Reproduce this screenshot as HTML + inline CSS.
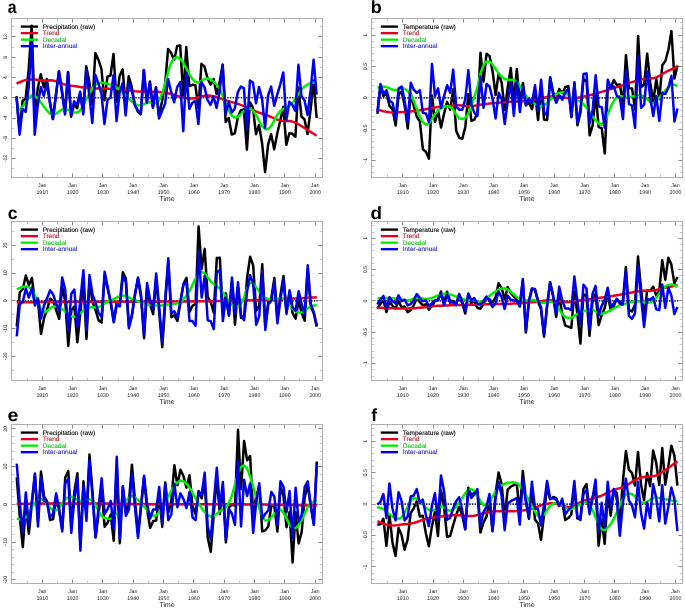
<!DOCTYPE html>
<html><head><meta charset="utf-8"><title>Time scales decomposition</title>
<style>
html,body{margin:0;padding:0;background:#fff;}
svg{display:block;font-family:"Liberation Sans",Arial,sans-serif;text-rendering:geometricPrecision;}
.fr{fill:none;stroke:#b0b0b4;stroke-width:1}
.tk{stroke:#8c8c90;stroke-width:1;fill:none}
.tm{stroke:#c4c4cc;stroke-width:1;fill:none}
.ln{fill:none;stroke-width:2.5;stroke-linejoin:round;stroke-linecap:butt}
.tl{font-size:5.3px;fill:#1a1a1a}
.lg{font-size:6.5px;stroke-width:0.12px}
.pl{font-size:17.5px;font-weight:bold;fill:#000}
</style></head><body>
<svg width="685" height="608" viewBox="0 0 685 608">
<rect width="685" height="608" fill="#fff"/>
<g id="panel-a">
<path class="tk" d="M42.5 18.5v4.1M42.5 177.5v-4.1M72.5 18.5v4.1M72.5 177.5v-4.1M102.5 18.5v4.1M102.5 177.5v-4.1M133.5 18.5v4.1M133.5 177.5v-4.1M163.5 18.5v4.1M163.5 177.5v-4.1M193.5 18.5v4.1M193.5 177.5v-4.1M224.5 18.5v4.1M224.5 177.5v-4.1M254.5 18.5v4.1M254.5 177.5v-4.1M284.5 18.5v4.1M284.5 177.5v-4.1M315.5 18.5v4.1M315.5 177.5v-4.1M11.5 158.5h4.1M322.5 158.5h-4.1M11.5 138.5h4.1M322.5 138.5h-4.1M11.5 118.5h4.1M322.5 118.5h-4.1M11.5 97.5h4.1M322.5 97.5h-4.1M11.5 77.5h4.1M322.5 77.5h-4.1M11.5 57.5h4.1M322.5 57.5h-4.1M11.5 36.5h4.1M322.5 36.5h-4.1"/>
<path class="tm" d="M27.5 18.5v2.8M27.5 177.5v-2.8M57.5 18.5v2.8M57.5 177.5v-2.8M87.5 18.5v2.8M87.5 177.5v-2.8M118.5 18.5v2.8M118.5 177.5v-2.8M148.5 18.5v2.8M148.5 177.5v-2.8M178.5 18.5v2.8M178.5 177.5v-2.8M209.5 18.5v2.8M209.5 177.5v-2.8M239.5 18.5v2.8M239.5 177.5v-2.8M269.5 18.5v2.8M269.5 177.5v-2.8M299.5 18.5v2.8M299.5 177.5v-2.8M11.5 168.5h2.8M322.5 168.5h-2.8M11.5 148.5h2.8M322.5 148.5h-2.8M11.5 128.5h2.8M322.5 128.5h-2.8M11.5 107.5h2.8M322.5 107.5h-2.8M11.5 87.5h2.8M322.5 87.5h-2.8M11.5 67.5h2.8M322.5 67.5h-2.8M11.5 47.5h2.8M322.5 47.5h-2.8M11.5 26.5h2.8M322.5 26.5h-2.8"/>
<g clip-path="none"><polyline class="ln" stroke="#000" points="16.54,96.23 19.57,130.86 22.6,100.88 25.63,98.83 28.66,69.56 31.69,25.83 34.72,114.56 37.75,88.28 40.78,74.27 43.82,87.22 46.85,78.93 49.88,101.26 52.91,119.02 55.94,94.76 58.97,71.41 62,90.75 65.03,112.44 68.06,72.04 71.1,116.63 74.13,104.43 77.16,108.28 80.19,93.53 83.22,112.17 86.25,66.35 89.28,81.6 92.31,104.57 95.34,52.99 98.38,59.72 101.41,68.95 104.44,100.28 107.47,76.62 110.5,75.5 113.53,54.03 116.56,101.95 119.59,75.97 122.62,69.3 125.66,105.13 128.69,76.36 131.72,86.9 134.75,104.33 137.78,111.51 140.81,114.31 143.84,70.24 146.87,101.8 149.9,81.47 152.94,107.05 155.97,87.16 159,115.72 162.03,101.47 165.06,84.58 168.09,48.98 171.12,53.06 174.15,59.89 177.18,46.09 180.22,45.58 183.25,96.03 186.28,47.1 189.31,86.12 192.34,84.83 195.37,85.23 198.4,108.33 201.43,63.86 204.46,66.35 207.5,78.29 210.53,84.54 213.56,79.1 216.59,94.03 219.62,82.4 222.65,64.4 225.68,122.06 228.71,117.97 231.74,134.49 234.78,133.42 237.81,117.49 240.84,110.19 243.87,109.59 246.9,149.7 249.93,102.18 252.96,107.78 255.99,134.22 259.02,124.95 262.06,143.01 265.09,172.21 268.12,144.63 271.15,134.22 274.18,149.37 277.21,133.81 280.24,120.73 283.27,106.73 286.3,144.85 289.34,133.23 292.37,133.79 295.4,136.85 298.43,87.59 301.46,116.49 304.49,119.41 307.52,133.99 310.55,110.15 313.58,80.62 316.62,118.01"/>
<path d="M16.54 97.75H317.42" stroke="#333" stroke-width="1.7" stroke-dasharray="1.6 1.1" fill="none"/>
<polyline class="ln" stroke="#e8001c" points="16.54,83.57 19.57,82.24 22.6,81.04 25.63,80.09 28.66,79.52 31.69,79.4 34.72,79.61 37.75,79.98 40.78,80.35 43.82,80.53 46.85,80.45 49.88,80.34 52.91,80.53 55.94,81.25 58.97,82.34 62,83.54 65.03,84.58 68.06,85.28 71.1,85.74 74.13,86.1 77.16,86.5 80.19,86.95 83.22,87.39 86.25,87.79 89.28,88.13 92.31,88.36 95.34,88.51 98.38,88.59 101.41,88.62 104.44,88.63 107.47,88.64 110.5,88.67 113.53,88.74 116.56,88.89 119.59,89.14 122.62,89.5 125.66,89.94 128.69,90.39 131.72,90.82 134.75,91.17 137.78,91.39 140.81,91.52 143.84,91.57 146.87,91.59 149.9,91.6 152.94,91.64 155.97,91.73 159,91.92 162.03,92.22 165.06,92.69 168.09,93.32 171.12,94.09 174.15,94.95 177.18,95.85 180.22,96.74 183.25,97.56 186.28,98.21 189.31,98.56 192.34,98.51 195.37,97.99 198.4,97.19 201.43,96.35 204.46,95.72 207.5,95.5 210.53,95.69 213.56,96.23 216.59,97.07 219.62,98.11 222.65,99.21 225.68,100.28 228.71,101.22 231.74,102.08 234.78,102.92 237.81,103.81 240.84,104.84 243.87,106.04 246.9,107.38 249.93,108.77 252.96,110.14 255.99,111.43 259.02,112.57 262.06,113.64 265.09,114.68 268.12,115.77 271.15,117 274.18,118.36 277.21,119.63 280.24,120.54 283.27,120.91 286.3,120.97 289.34,121.07 292.37,121.56 295.4,122.67 298.43,124.26 301.46,126.11 304.49,128.02 307.52,129.94 310.55,131.87 313.58,133.8 316.62,135.74"/>
<polyline class="ln" stroke="#00ee00" points="16.54,110.92 19.57,109.4 22.6,106.44 25.63,102.31 28.66,97.92 31.69,95.22 34.72,95.72 37.75,98.45 40.78,102.31 43.82,106.46 46.85,110.41 49.88,113.61 52.91,114.97 55.94,113.79 58.97,111.43 62,109.52 65.03,108.89 68.06,109.84 71.1,111.43 74.13,112.54 77.16,112.44 80.19,110.41 83.22,105.81 86.25,99.78 89.28,93.76 92.31,88.63 95.34,85.02 98.38,83.06 101.41,82.63 104.44,83.06 107.47,83.71 110.5,84.58 113.53,85.83 116.56,87.51 119.59,89.65 122.62,92.24 125.66,95.22 128.69,98.41 131.72,101.43 134.75,103.83 137.78,105.21 140.81,105.35 143.84,104.28 146.87,102.9 149.9,102.31 152.94,103.04 155.97,103.31 159,100.79 162.03,93.82 165.06,83.57 168.09,72.15 171.12,62.8 174.15,58.13 177.18,57.23 180.22,58.75 183.25,62.79 186.28,68.37 189.31,74.16 192.34,79.01 195.37,81.95 198.4,82.56 201.43,80.96 204.46,79.01 207.5,78.51 210.53,79.52 213.56,81.63 216.59,84.58 219.62,88.63 222.65,95.35 225.68,103.32 228.71,110.45 231.74,115.48 234.78,117.61 237.81,117 240.84,114.24 243.87,110.92 246.9,108.67 249.93,108.39 252.96,110.59 255.99,114.97 259.02,120.76 262.06,126.11 265.09,129.15 268.12,129.14 271.15,126.11 274.18,120.66 277.21,114.97 280.24,111.1 283.27,108.89 286.3,107.53 289.34,105.85 292.37,102.89 295.4,98.76 298.43,93.99 301.46,89.65 304.49,86.61 307.52,84.58 310.55,83.12 313.58,82.56 316.62,83.06"/>
<polyline class="ln" stroke="#0000f0" points="16.54,97.24 19.57,134.72 22.6,108.89 25.63,111.93 28.66,87.62 31.69,42.03 34.72,134.72 37.75,105.35 40.78,87.11 43.82,95.72 46.85,83.57 49.88,102.81 52.91,119.02 55.94,95.22 58.97,70.91 62,93.19 65.03,114.46 68.06,72.42 71.1,114.97 74.13,101.3 77.16,104.84 80.19,91.67 83.22,114.46 86.25,69.89 89.28,95.22 92.31,123.08 95.34,74.96 98.38,83.57 101.41,93.19 104.44,124.09 107.47,99.78 110.5,97.75 113.53,74.96 116.56,121.05 119.59,92.69 122.62,83.06 125.66,115.48 128.69,83.06 131.72,90.15 134.75,104.84 137.78,110.41 140.81,112.94 143.84,69.89 146.87,102.81 149.9,83.06 152.94,107.88 155.97,87.62 159,118.52 162.03,110.92 165.06,103.83 168.09,79.01 171.12,91.67 174.15,102.31 177.18,87.11 180.22,82.05 183.25,131.18 186.28,72.42 189.31,108.89 192.34,102.81 195.37,100.79 198.4,124.09 201.43,82.05 204.46,87.11 207.5,99.78 210.53,104.84 213.56,96.74 216.59,107.88 219.62,91.17 222.65,65.33 225.68,113.96 228.71,101.8 231.74,112.44 234.78,108.39 237.81,92.18 240.84,86.61 243.87,88.13 246.9,129.15 249.93,80.53 252.96,82.56 255.99,103.32 259.02,87.11 262.06,98.76 265.09,127.63 268.12,95.22 271.15,86.61 274.18,105.85 277.21,94.71 280.24,84.58 283.27,72.42 286.3,120.54 289.34,101.8 292.37,104.84 295.4,110.92 298.43,64.83 301.46,96.23 304.49,100.28 307.52,114.97 310.55,90.66 313.58,59.76 316.62,94.71"/>
</g>
<rect class="fr" x="11.5" y="18.5" width="311" height="159"/>
<path d="M20.8 26.6H38" stroke="#000" stroke-width="2.35" fill="none"/><text class="lg" x="42.7" y="28.85" fill="#000" stroke="#000">Precipitation (raw)</text>
<path d="M20.8 33.13H38" stroke="#e8001c" stroke-width="2.35" fill="none"/><text class="lg" x="42.7" y="35.38" fill="#b8202c" stroke="#b8202c">Trend</text>
<path d="M20.8 39.66H38" stroke="#00ee00" stroke-width="2.35" fill="none"/><text class="lg" x="42.7" y="41.91" fill="#22c022" stroke="#22c022">Decadal</text>
<path d="M20.8 46.19H38" stroke="#0000f0" stroke-width="2.35" fill="none"/><text class="lg" x="42.7" y="48.44" fill="#2828c8" stroke="#2828c8">Inter-annual</text>
<text class="tl" text-anchor="middle" x="42.3" y="186.8">Jan</text><text class="tl" text-anchor="middle" x="42.3" y="194.1">1910</text>
<text class="tl" text-anchor="middle" x="72.61" y="186.8">Jan</text><text class="tl" text-anchor="middle" x="72.61" y="194.1">1920</text>
<text class="tl" text-anchor="middle" x="102.92" y="186.8">Jan</text><text class="tl" text-anchor="middle" x="102.92" y="194.1">1930</text>
<text class="tl" text-anchor="middle" x="133.23" y="186.8">Jan</text><text class="tl" text-anchor="middle" x="133.23" y="194.1">1940</text>
<text class="tl" text-anchor="middle" x="163.54" y="186.8">Jan</text><text class="tl" text-anchor="middle" x="163.54" y="194.1">1950</text>
<text class="tl" text-anchor="middle" x="193.86" y="186.8">Jan</text><text class="tl" text-anchor="middle" x="193.86" y="194.1">1960</text>
<text class="tl" text-anchor="middle" x="224.17" y="186.8">Jan</text><text class="tl" text-anchor="middle" x="224.17" y="194.1">1970</text>
<text class="tl" text-anchor="middle" x="254.48" y="186.8">Jan</text><text class="tl" text-anchor="middle" x="254.48" y="194.1">1980</text>
<text class="tl" text-anchor="middle" x="284.79" y="186.8">Jan</text><text class="tl" text-anchor="middle" x="284.79" y="194.1">1990</text>
<text class="tl" text-anchor="middle" x="315.1" y="186.8">Jan</text><text class="tl" text-anchor="middle" x="315.1" y="194.1">2000</text>
<text text-anchor="middle" x="167" y="200.5" font-size="6.8px" fill="#111">Time</text>
<text class="tl" text-anchor="middle" transform="translate(6.5 158.53) rotate(-90)">-12</text>
<text class="tl" text-anchor="middle" transform="translate(6.5 138.27) rotate(-90)">-8</text>
<text class="tl" text-anchor="middle" transform="translate(6.5 118.01) rotate(-90)">-4</text>
<text class="tl" text-anchor="middle" transform="translate(6.5 97.75) rotate(-90)">0</text>
<text class="tl" text-anchor="middle" transform="translate(6.5 77.49) rotate(-90)">4</text>
<text class="tl" text-anchor="middle" transform="translate(6.5 57.23) rotate(-90)">8</text>
<text class="tl" text-anchor="middle" transform="translate(6.5 36.97) rotate(-90)">12</text>
<text class="pl" transform="translate(7.8 12.7) scale(0.9 1)">a</text>
</g>
<g id="panel-b">
<path class="tk" d="M402.5 18.5v4.1M402.5 177.5v-4.1M433.5 18.5v4.1M433.5 177.5v-4.1M463.5 18.5v4.1M463.5 177.5v-4.1M493.5 18.5v4.1M493.5 177.5v-4.1M523.5 18.5v4.1M523.5 177.5v-4.1M554.5 18.5v4.1M554.5 177.5v-4.1M584.5 18.5v4.1M584.5 177.5v-4.1M614.5 18.5v4.1M614.5 177.5v-4.1M645.5 18.5v4.1M645.5 177.5v-4.1M675.5 18.5v4.1M675.5 177.5v-4.1M371.5 160.5h4.1M682.5 160.5h-4.1M371.5 129.5h4.1M682.5 129.5h-4.1M371.5 97.5h4.1M682.5 97.5h-4.1M371.5 66.5h4.1M682.5 66.5h-4.1M371.5 35.5h4.1M682.5 35.5h-4.1"/>
<path class="tm" d="M387.5 18.5v2.8M387.5 177.5v-2.8M417.5 18.5v2.8M417.5 177.5v-2.8M448.5 18.5v2.8M448.5 177.5v-2.8M478.5 18.5v2.8M478.5 177.5v-2.8M508.5 18.5v2.8M508.5 177.5v-2.8M539.5 18.5v2.8M539.5 177.5v-2.8M569.5 18.5v2.8M569.5 177.5v-2.8M599.5 18.5v2.8M599.5 177.5v-2.8M630.5 18.5v2.8M630.5 177.5v-2.8M660.5 18.5v2.8M660.5 177.5v-2.8M371.5 172.5h2.8M682.5 172.5h-2.8M371.5 166.5h2.8M682.5 166.5h-2.8M371.5 154.5h2.8M682.5 154.5h-2.8M371.5 147.5h2.8M682.5 147.5h-2.8M371.5 141.5h2.8M682.5 141.5h-2.8M371.5 135.5h2.8M682.5 135.5h-2.8M371.5 122.5h2.8M682.5 122.5h-2.8M371.5 116.5h2.8M682.5 116.5h-2.8M371.5 110.5h2.8M682.5 110.5h-2.8M371.5 104.5h2.8M682.5 104.5h-2.8M371.5 91.5h2.8M682.5 91.5h-2.8M371.5 85.5h2.8M682.5 85.5h-2.8M371.5 79.5h2.8M682.5 79.5h-2.8M371.5 72.5h2.8M682.5 72.5h-2.8M371.5 60.5h2.8M682.5 60.5h-2.8M371.5 53.5h2.8M682.5 53.5h-2.8M371.5 47.5h2.8M682.5 47.5h-2.8M371.5 41.5h2.8M682.5 41.5h-2.8M371.5 28.5h2.8M682.5 28.5h-2.8M371.5 22.5h2.8M682.5 22.5h-2.8"/>
<g clip-path="none"><polyline class="ln" stroke="#000" points="377.42,113.83 380.45,85.77 383.48,96.15 386.51,93.61 389.54,105.94 392.58,109.38 395.61,125.58 398.64,94.53 401.67,91.46 404.7,106 407.73,128.55 410.76,93.47 413.79,106.1 416.82,116.74 419.86,121.59 422.89,149.25 425.92,151.77 428.95,158.67 431.98,95.5 435.01,121.9 438.04,110.56 441.07,127.44 444.1,113.56 447.14,101.86 450.17,109.89 453.2,89.32 456.23,130.84 459.26,137.86 462.29,138.78 465.32,127.14 468.35,94.36 471.38,120.81 474.42,119.53 477.45,112.74 480.48,52.73 483.51,81.71 486.54,53.71 489.57,55.93 492.6,71.44 495.63,95 498.66,73.44 501.7,82.91 504.73,109.84 507.76,87.13 510.79,68.06 513.82,101.84 516.85,68.99 519.88,103.7 522.91,83.03 525.94,105.46 528.98,102.47 532.01,109.25 535.04,93.4 538.07,120.09 541.1,88.72 544.13,119.7 547.16,119.91 550.19,77.92 553.22,92.52 556.26,97.71 559.29,89.04 562.32,93.26 565.35,87.03 568.38,86.15 571.41,117.21 574.44,84.18 577.47,125.33 580.5,112.2 583.54,79.09 586.57,81.52 589.6,135.25 592.63,125.74 595.66,93.74 598.69,127.17 601.72,128.16 604.75,153.51 607.78,88.16 610.82,87.89 613.85,80.01 616.88,85.09 619.91,84.57 622.94,104.73 625.97,55.29 629,88.31 632.03,88.41 635.06,109.43 638.1,36 641.13,87.14 644.16,84.53 647.19,53.67 650.22,82.65 653.25,101.61 656.28,79.06 659.31,99.08 662.34,65.23 665.38,61.01 668.41,49.75 671.44,31.13 674.47,78.55 677.5,65.56"/>
<path d="M377.42 97.8H678.3" stroke="#333" stroke-width="1.7" stroke-dasharray="1.6 1.1" fill="none"/>
<polyline class="ln" stroke="#e8001c" points="377.42,109.69 380.45,110.47 383.48,111.18 386.51,111.78 389.54,112.2 392.58,112.41 395.61,112.43 398.64,112.32 401.67,112.12 404.7,111.88 407.73,111.65 410.76,111.39 413.79,111.1 416.82,110.75 419.86,110.32 422.89,109.79 425.92,109.2 428.95,108.59 431.98,108.01 435.01,107.5 438.04,107.1 441.07,106.78 444.1,106.51 447.14,106.24 450.17,105.94 453.2,105.6 456.23,105.34 459.26,105.31 462.29,105.6 465.32,106 468.35,106.25 471.38,106.15 474.42,105.76 477.45,105.23 480.48,104.69 483.51,104.24 486.54,103.89 489.57,103.61 492.6,103.36 495.63,103.12 498.66,102.86 501.7,102.59 504.73,102.33 507.76,102.08 510.79,101.87 513.82,101.7 516.85,101.54 519.88,101.38 522.91,101.19 525.94,100.93 528.98,100.59 532.01,100.17 535.04,99.66 538.07,99.08 541.1,98.43 544.13,97.72 547.16,97.06 550.19,96.55 553.22,96.28 556.26,96.28 559.29,96.55 562.32,97.07 565.35,97.67 568.38,98.19 571.41,98.43 574.44,98.25 577.47,97.78 580.5,97.17 583.54,96.56 586.57,95.92 589.6,95.21 592.63,94.44 595.66,93.61 598.69,92.74 601.72,91.85 604.75,90.95 607.78,90.04 610.82,89.1 613.85,88.15 616.88,87.16 619.91,86.14 622.94,85.11 625.97,84.09 629,83.09 632.03,82.15 635.06,81.27 638.1,80.45 641.13,79.65 644.16,78.89 647.19,78.39 650.22,78.27 653.25,78.13 656.28,77.45 659.31,75.92 662.34,74.01 665.38,72.28 668.41,70.75 671.44,69.32 674.47,67.91 677.5,66.5"/>
<polyline class="ln" stroke="#00ee00" points="377.42,87.78 380.45,86.88 383.48,86.53 386.51,87.14 389.54,88.41 392.58,89.77 395.61,90.29 398.64,89.4 401.67,88.41 404.7,88.79 407.73,90.91 410.76,94.9 413.79,100.93 416.82,108.79 419.86,116.58 422.89,122.23 425.92,124.72 428.95,123.47 431.98,119.09 435.01,114.08 438.04,110.65 441.07,108.44 444.1,106.73 447.14,105.94 450.17,106.76 453.2,109.69 456.23,114.54 459.26,118.46 462.29,119.08 465.32,117.69 468.35,113.45 471.38,105.57 474.42,96.55 477.45,87.16 480.48,73.39 483.51,65.25 486.54,61.38 489.57,61.39 492.6,64.62 495.63,69.02 498.66,73.39 501.7,76.87 504.73,79.02 507.76,79.72 510.79,79.65 513.82,79.79 516.85,81.52 519.88,85.72 522.91,90.91 525.94,95.44 528.98,99.05 532.01,101.87 535.04,104.06 538.07,105.67 541.1,106.25 544.13,105.38 547.16,103.12 550.19,99.83 553.22,96.55 556.26,94.22 559.29,92.79 562.32,92.12 565.35,92.79 568.38,95.15 571.41,97.8 574.44,99.37 577.47,100.3 580.5,101.56 583.54,104.11 586.57,107.82 589.6,112.17 592.63,116.58 595.66,120.46 598.69,123.47 601.72,124.72 604.75,121.59 607.78,114.08 610.82,106.6 613.85,100.93 616.88,97.61 619.91,96.23 622.94,96.14 625.97,96.55 629,96.76 632.03,96.55 635.06,95.91 638.1,95.3 641.13,95.28 644.16,96.55 647.19,99.37 650.22,102.18 653.25,103.12 656.28,101.28 659.31,97.8 662.34,94.03 665.38,90.29 668.41,86.82 671.44,84.65 674.47,84.65 677.5,86.22"/>
<polyline class="ln" stroke="#0000f0" points="377.42,111.95 380.45,84.03 383.48,94.04 386.51,90.29 389.54,100.93 392.58,102.81 395.61,118.46 398.64,88.41 401.67,86.53 404.7,100.93 407.73,121.59 410.76,82.78 413.79,89.66 416.82,92.79 419.86,90.29 422.89,112.82 425.92,113.45 428.95,122.21 431.98,64 435.01,95.92 438.04,88.41 441.07,107.82 444.1,95.92 447.14,85.28 450.17,92.79 453.2,69.63 456.23,106.56 459.26,109.69 462.29,109.69 465.32,99.05 468.35,70.26 471.38,104.69 474.42,112.82 477.45,115.95 480.48,76.52 483.51,107.82 486.54,84.03 489.57,86.53 492.6,99.05 495.63,118.46 498.66,92.79 501.7,99.05 504.73,124.09 507.76,100.93 510.79,82.15 513.82,115.95 516.85,81.52 519.88,112.2 522.91,86.53 525.94,104.69 528.98,98.43 532.01,102.81 535.04,85.28 538.07,110.95 541.1,79.65 544.13,112.2 547.16,115.33 550.19,77.14 553.22,95.3 556.26,102.81 559.29,95.3 562.32,99.68 565.35,92.17 568.38,88.41 571.41,116.58 574.44,82.15 577.47,122.84 580.5,109.07 583.54,74.01 586.57,73.39 589.6,123.47 592.63,110.32 595.66,75.26 598.69,106.56 601.72,107.19 604.75,127.85 607.78,79.65 610.82,87.78 613.85,86.53 616.88,95.92 619.91,97.8 622.94,119.08 625.97,70.26 629,104.06 632.03,105.31 635.06,127.85 638.1,55.86 641.13,107.82 644.16,104.69 647.19,71.51 650.22,97.8 653.25,115.95 656.28,95.92 659.31,120.96 662.34,92.79 665.38,94.04 668.41,87.78 671.44,75.89 674.47,121.59 677.5,108.44"/>
</g>
<rect class="fr" x="371.5" y="18.5" width="311" height="159"/>
<path d="M380.8 26.6H398" stroke="#000" stroke-width="2.35" fill="none"/><text class="lg" x="402.7" y="28.85" fill="#000" stroke="#000">Temperature (raw)</text>
<path d="M380.8 33.13H398" stroke="#e8001c" stroke-width="2.35" fill="none"/><text class="lg" x="402.7" y="35.38" fill="#b8202c" stroke="#b8202c">Trend</text>
<path d="M380.8 39.66H398" stroke="#00ee00" stroke-width="2.35" fill="none"/><text class="lg" x="402.7" y="41.91" fill="#22c022" stroke="#22c022">Decadal</text>
<path d="M380.8 46.19H398" stroke="#0000f0" stroke-width="2.35" fill="none"/><text class="lg" x="402.7" y="48.44" fill="#2828c8" stroke="#2828c8">Inter-annual</text>
<text class="tl" text-anchor="middle" x="402.7" y="186.8">Jan</text><text class="tl" text-anchor="middle" x="402.7" y="194.1">1910</text>
<text class="tl" text-anchor="middle" x="433.01" y="186.8">Jan</text><text class="tl" text-anchor="middle" x="433.01" y="194.1">1920</text>
<text class="tl" text-anchor="middle" x="463.32" y="186.8">Jan</text><text class="tl" text-anchor="middle" x="463.32" y="194.1">1930</text>
<text class="tl" text-anchor="middle" x="493.63" y="186.8">Jan</text><text class="tl" text-anchor="middle" x="493.63" y="194.1">1940</text>
<text class="tl" text-anchor="middle" x="523.94" y="186.8">Jan</text><text class="tl" text-anchor="middle" x="523.94" y="194.1">1950</text>
<text class="tl" text-anchor="middle" x="554.26" y="186.8">Jan</text><text class="tl" text-anchor="middle" x="554.26" y="194.1">1960</text>
<text class="tl" text-anchor="middle" x="584.57" y="186.8">Jan</text><text class="tl" text-anchor="middle" x="584.57" y="194.1">1970</text>
<text class="tl" text-anchor="middle" x="614.88" y="186.8">Jan</text><text class="tl" text-anchor="middle" x="614.88" y="194.1">1980</text>
<text class="tl" text-anchor="middle" x="645.19" y="186.8">Jan</text><text class="tl" text-anchor="middle" x="645.19" y="194.1">1990</text>
<text class="tl" text-anchor="middle" x="675.5" y="186.8">Jan</text><text class="tl" text-anchor="middle" x="675.5" y="194.1">2000</text>
<text text-anchor="middle" x="527" y="200.5" font-size="6.8px" fill="#111">Time</text>
<text class="tl" text-anchor="middle" transform="translate(366.5 160.4) rotate(-90)">-1</text>
<text class="tl" text-anchor="middle" transform="translate(366.5 129.1) rotate(-90)">-0.5</text>
<text class="tl" text-anchor="middle" transform="translate(366.5 97.8) rotate(-90)">0</text>
<text class="tl" text-anchor="middle" transform="translate(366.5 66.5) rotate(-90)">0.5</text>
<text class="tl" text-anchor="middle" transform="translate(366.5 35.2) rotate(-90)">1</text>
<text class="pl" transform="translate(370.8 12.6) scale(1.03 1)">b</text>
</g>
<g id="panel-c">
<path class="tk" d="M42.5 221.5v4.1M42.5 380.5v-4.1M72.5 221.5v4.1M72.5 380.5v-4.1M102.5 221.5v4.1M102.5 380.5v-4.1M133.5 221.5v4.1M133.5 380.5v-4.1M163.5 221.5v4.1M163.5 380.5v-4.1M193.5 221.5v4.1M193.5 380.5v-4.1M224.5 221.5v4.1M224.5 380.5v-4.1M254.5 221.5v4.1M254.5 380.5v-4.1M284.5 221.5v4.1M284.5 380.5v-4.1M315.5 221.5v4.1M315.5 380.5v-4.1M11.5 356.5h4.1M322.5 356.5h-4.1M11.5 328.5h4.1M322.5 328.5h-4.1M11.5 300.5h4.1M322.5 300.5h-4.1M11.5 273.5h4.1M322.5 273.5h-4.1M11.5 245.5h4.1M322.5 245.5h-4.1"/>
<path class="tm" d="M27.5 221.5v2.8M27.5 380.5v-2.8M57.5 221.5v2.8M57.5 380.5v-2.8M87.5 221.5v2.8M87.5 380.5v-2.8M118.5 221.5v2.8M118.5 380.5v-2.8M148.5 221.5v2.8M148.5 380.5v-2.8M178.5 221.5v2.8M178.5 380.5v-2.8M209.5 221.5v2.8M209.5 380.5v-2.8M239.5 221.5v2.8M239.5 380.5v-2.8M269.5 221.5v2.8M269.5 380.5v-2.8M299.5 221.5v2.8M299.5 380.5v-2.8M11.5 370.5h2.8M322.5 370.5h-2.8M11.5 342.5h2.8M322.5 342.5h-2.8M11.5 314.5h2.8M322.5 314.5h-2.8M11.5 286.5h2.8M322.5 286.5h-2.8M11.5 259.5h2.8M322.5 259.5h-2.8M11.5 231.5h2.8M322.5 231.5h-2.8"/>
<g clip-path="none"><polyline class="ln" stroke="#000" points="16.75,326.36 19.78,292.54 22.81,288.89 25.84,275.56 28.87,285.07 31.9,278.01 34.93,301.21 37.97,300.98 41,334.12 44.03,318.13 47.06,309.71 50.09,298.68 53.12,301.26 56.15,310.01 59.18,318.8 62.21,286.68 65.25,301.27 68.28,345.97 71.31,310.3 74.34,306.51 77.37,342.28 80.4,312.36 83.43,280.72 86.46,338.95 89.49,282.31 92.53,301.77 95.56,310.14 98.59,320.32 101.62,322.49 104.65,275.11 107.68,288.65 110.71,302.53 113.74,321.13 116.77,302.24 119.81,302.56 122.84,272.29 125.87,278.47 128.9,325.79 131.93,314.86 134.96,294.45 137.99,278.8 141.02,296.94 144.05,338.24 147.09,287.51 150.12,304.94 153.15,314.12 156.18,278.84 159.21,312.72 162.24,347.18 165.27,302.44 168.3,262.59 171.33,317.11 174.37,315.23 177.4,320.96 180.43,302.41 183.46,283.77 186.49,277.89 189.52,312 192.55,305.73 195.58,303.89 198.61,226.55 201.65,268.88 204.68,248.88 207.71,297.1 210.74,302.01 213.77,312.71 216.8,258.09 219.83,257.75 222.86,312.59 225.89,293.38 228.93,315.69 231.96,281.59 234.99,324.69 238.02,287.52 241.05,317.95 244.08,316.46 247.11,277.56 250.14,256.68 253.17,265.46 256.21,310.55 259.24,306.05 262.27,264.34 265.3,325.83 268.33,301.29 271.36,298.02 274.39,278.06 277.42,319.38 280.45,295.01 283.49,275.98 286.52,311.94 289.55,292.16 292.58,313.03 295.61,318.7 298.64,300.24 301.67,313.1 304.7,320.69 307.73,269.65 310.77,306.48 313.8,313.49 316.83,326.63"/>
<path d="M16.75 300.85H317.63" stroke="#333" stroke-width="1.7" stroke-dasharray="1.6 1.1" fill="none"/>
<polyline class="ln" stroke="#e8001c" points="16.75,302.24 19.78,302.21 22.81,302.19 25.84,302.17 28.87,302.15 31.9,302.13 34.93,302.11 37.97,302.09 41,302.07 44.03,302.04 47.06,302.02 50.09,302 53.12,301.98 56.15,301.97 59.18,301.95 62.21,301.93 65.25,301.91 68.28,301.89 71.31,301.87 74.34,301.86 77.37,301.84 80.4,301.82 83.43,301.81 86.46,301.79 89.49,301.78 92.53,301.77 95.56,301.75 98.59,301.74 101.62,301.73 104.65,301.72 107.68,301.71 110.71,301.7 113.74,301.69 116.77,301.69 119.81,301.68 122.84,301.68 125.87,301.67 128.9,301.67 131.93,301.66 134.96,301.66 137.99,301.66 141.02,301.66 144.05,301.65 147.09,301.65 150.12,301.64 153.15,301.64 156.18,301.63 159.21,301.63 162.24,301.62 165.27,301.61 168.3,301.6 171.33,301.58 174.37,301.57 177.4,301.55 180.43,301.53 183.46,301.51 186.49,301.49 189.52,301.46 192.55,301.43 195.58,301.4 198.61,301.36 201.65,301.32 204.68,301.28 207.71,301.23 210.74,301.18 213.77,301.13 216.8,301.07 219.83,301.01 222.86,300.94 225.89,300.87 228.93,300.79 231.96,300.72 234.99,300.64 238.02,300.56 241.05,300.47 244.08,300.38 247.11,300.29 250.14,300.2 253.17,300.11 256.21,300.02 259.24,299.92 262.27,299.83 265.3,299.73 268.33,299.63 271.36,299.52 274.39,299.41 277.42,299.29 280.45,299.17 283.49,299.04 286.52,298.91 289.55,298.77 292.58,298.62 295.61,298.46 298.64,298.3 301.67,298.13 304.7,297.96 307.73,297.78 310.77,297.6 313.8,297.43 316.83,297.25"/>
<polyline class="ln" stroke="#00ee00" points="16.75,289.48 19.78,287.85 22.81,286.71 25.84,286.43 28.87,287.09 31.9,289.76 34.93,295.24 37.97,302.24 41,308.75 44.03,312.22 47.06,311.03 50.09,308.06 53.12,306.5 56.15,306.4 59.18,307.17 62.21,308.89 65.25,311.58 68.28,314.44 71.31,316.49 74.34,316.87 77.37,315.5 80.4,313.05 83.43,310.26 86.46,308.06 89.49,307.16 92.53,307.23 95.56,307.57 98.59,307.23 101.62,305.53 104.65,303.35 107.68,301.65 110.71,300.3 113.74,298.94 116.77,297.52 119.81,296.19 122.84,295.58 125.87,296.22 128.9,297.52 131.93,298.8 134.96,300.02 137.99,301.28 141.02,302.51 144.05,303.61 147.09,304.45 150.12,304.97 153.15,305.29 156.18,305.5 159.21,305.56 162.24,305.38 165.27,305.01 168.3,304.54 171.33,304.18 174.37,303.97 177.4,303.35 180.43,301.72 183.46,299.19 186.49,295.82 189.52,291.15 192.55,284.91 195.58,278.39 198.61,273.4 201.65,271.74 204.68,273.4 207.71,277.31 210.74,281.44 213.77,284.15 216.8,286.16 219.83,288.65 222.86,292.26 225.89,296.69 228.93,301.33 231.96,305.01 234.99,306.71 238.02,306.4 241.05,303.91 244.08,297.52 247.11,287.82 250.14,283.11 253.17,283.11 256.21,287.26 259.24,291.72 262.27,295.31 265.3,297.84 268.33,299.19 271.36,299.35 274.39,298.91 277.42,298.48 280.45,298.35 283.49,298.86 286.52,300.85 289.55,304.78 292.58,308.89 295.61,311.38 298.64,312.49 301.67,312.49 304.7,310.55 307.73,308.2 310.77,306.4 313.8,305.55 316.83,305.29"/>
<polyline class="ln" stroke="#0000f0" points="16.75,336.34 19.78,304.18 22.81,301.68 25.84,288.65 28.87,297.52 31.9,287.82 34.93,305.56 37.97,298.35 41,318.59 44.03,305.56 47.06,298.35 50.09,290.31 53.12,294.47 56.15,303.35 59.18,311.39 62.21,277.56 65.25,289.48 68.28,331.35 71.31,293.64 74.34,289.48 77.37,326.63 80.4,299.19 83.43,270.35 86.46,330.79 89.49,275.07 92.53,294.47 95.56,302.51 98.59,313.05 101.62,316.93 104.65,271.74 107.68,286.99 110.71,302.24 113.74,322.2 116.77,304.73 119.81,306.4 122.84,276.73 125.87,282.27 128.9,328.3 131.93,316.1 134.96,294.47 137.99,277.56 141.02,294.47 144.05,334.67 147.09,283.11 150.12,300.02 153.15,308.89 156.18,273.4 159.21,307.23 162.24,341.88 165.27,297.52 168.3,258.15 171.33,313.05 174.37,311.39 177.4,317.76 180.43,300.85 183.46,284.77 186.49,282.27 189.52,321.09 192.55,321.09 195.58,325.8 198.61,250.95 201.65,297.52 204.68,275.9 207.71,320.26 210.74,321.09 213.77,329.13 216.8,272.57 219.83,269.8 222.86,321.09 225.89,297.52 228.93,315.27 231.96,277.56 234.99,313.88 238.02,282.27 241.05,315.27 244.08,320.26 247.11,291.15 250.14,275.07 253.17,283.94 256.21,324.97 259.24,316.1 262.27,270.91 265.3,329.96 268.33,304.18 271.36,300.85 274.39,281.44 277.42,323.31 280.45,299.19 283.49,279.78 286.52,313.88 289.55,290.31 292.58,307.23 295.61,310.55 298.64,291.15 301.67,304.18 304.7,313.88 307.73,265.36 310.77,304.18 313.8,312.22 316.83,325.8"/>
</g>
<rect class="fr" x="11.5" y="221.5" width="311" height="159"/>
<path d="M20.8 229.6H38" stroke="#000" stroke-width="2.35" fill="none"/><text class="lg" x="42.7" y="231.85" fill="#000" stroke="#000">Precipitation (raw)</text>
<path d="M20.8 236.13H38" stroke="#e8001c" stroke-width="2.35" fill="none"/><text class="lg" x="42.7" y="238.38" fill="#b8202c" stroke="#b8202c">Trend</text>
<path d="M20.8 242.66H38" stroke="#00ee00" stroke-width="2.35" fill="none"/><text class="lg" x="42.7" y="244.91" fill="#22c022" stroke="#22c022">Decadal</text>
<path d="M20.8 249.19H38" stroke="#0000f0" stroke-width="2.35" fill="none"/><text class="lg" x="42.7" y="251.44" fill="#2828c8" stroke="#2828c8">Inter-annual</text>
<text class="tl" text-anchor="middle" x="42.3" y="389.8">Jan</text><text class="tl" text-anchor="middle" x="42.3" y="397.1">1910</text>
<text class="tl" text-anchor="middle" x="72.61" y="389.8">Jan</text><text class="tl" text-anchor="middle" x="72.61" y="397.1">1920</text>
<text class="tl" text-anchor="middle" x="102.92" y="389.8">Jan</text><text class="tl" text-anchor="middle" x="102.92" y="397.1">1930</text>
<text class="tl" text-anchor="middle" x="133.23" y="389.8">Jan</text><text class="tl" text-anchor="middle" x="133.23" y="397.1">1940</text>
<text class="tl" text-anchor="middle" x="163.54" y="389.8">Jan</text><text class="tl" text-anchor="middle" x="163.54" y="397.1">1950</text>
<text class="tl" text-anchor="middle" x="193.86" y="389.8">Jan</text><text class="tl" text-anchor="middle" x="193.86" y="397.1">1960</text>
<text class="tl" text-anchor="middle" x="224.17" y="389.8">Jan</text><text class="tl" text-anchor="middle" x="224.17" y="397.1">1970</text>
<text class="tl" text-anchor="middle" x="254.48" y="389.8">Jan</text><text class="tl" text-anchor="middle" x="254.48" y="397.1">1980</text>
<text class="tl" text-anchor="middle" x="284.79" y="389.8">Jan</text><text class="tl" text-anchor="middle" x="284.79" y="397.1">1990</text>
<text class="tl" text-anchor="middle" x="315.1" y="389.8">Jan</text><text class="tl" text-anchor="middle" x="315.1" y="397.1">2000</text>
<text text-anchor="middle" x="167" y="403.5" font-size="6.8px" fill="#111">Time</text>
<text class="tl" text-anchor="middle" transform="translate(6.5 356.3) rotate(-90)">-20</text>
<text class="tl" text-anchor="middle" transform="translate(6.5 328.58) rotate(-90)">-10</text>
<text class="tl" text-anchor="middle" transform="translate(6.5 300.85) rotate(-90)">0</text>
<text class="tl" text-anchor="middle" transform="translate(6.5 273.12) rotate(-90)">10</text>
<text class="tl" text-anchor="middle" transform="translate(6.5 245.4) rotate(-90)">20</text>
<text class="pl" transform="translate(7.8 218.7) scale(1.0 1)">c</text>
</g>
<g id="panel-d">
<path class="tk" d="M402.5 221.5v4.1M402.5 380.5v-4.1M433.5 221.5v4.1M433.5 380.5v-4.1M463.5 221.5v4.1M463.5 380.5v-4.1M493.5 221.5v4.1M493.5 380.5v-4.1M523.5 221.5v4.1M523.5 380.5v-4.1M554.5 221.5v4.1M554.5 380.5v-4.1M584.5 221.5v4.1M584.5 380.5v-4.1M614.5 221.5v4.1M614.5 380.5v-4.1M645.5 221.5v4.1M645.5 380.5v-4.1M675.5 221.5v4.1M675.5 380.5v-4.1M371.5 363.5h4.1M682.5 363.5h-4.1M371.5 332.5h4.1M682.5 332.5h-4.1M371.5 300.5h4.1M682.5 300.5h-4.1M371.5 269.5h4.1M682.5 269.5h-4.1M371.5 238.5h4.1M682.5 238.5h-4.1"/>
<path class="tm" d="M387.5 221.5v2.8M387.5 380.5v-2.8M417.5 221.5v2.8M417.5 380.5v-2.8M448.5 221.5v2.8M448.5 380.5v-2.8M478.5 221.5v2.8M478.5 380.5v-2.8M508.5 221.5v2.8M508.5 380.5v-2.8M539.5 221.5v2.8M539.5 380.5v-2.8M569.5 221.5v2.8M569.5 380.5v-2.8M599.5 221.5v2.8M599.5 380.5v-2.8M630.5 221.5v2.8M630.5 380.5v-2.8M660.5 221.5v2.8M660.5 380.5v-2.8M371.5 376.5h2.8M682.5 376.5h-2.8M371.5 369.5h2.8M682.5 369.5h-2.8M371.5 357.5h2.8M682.5 357.5h-2.8M371.5 351.5h2.8M682.5 351.5h-2.8M371.5 344.5h2.8M682.5 344.5h-2.8M371.5 338.5h2.8M682.5 338.5h-2.8M371.5 326.5h2.8M682.5 326.5h-2.8M371.5 319.5h2.8M682.5 319.5h-2.8M371.5 313.5h2.8M682.5 313.5h-2.8M371.5 307.5h2.8M682.5 307.5h-2.8M371.5 294.5h2.8M682.5 294.5h-2.8M371.5 288.5h2.8M682.5 288.5h-2.8M371.5 282.5h2.8M682.5 282.5h-2.8M371.5 275.5h2.8M682.5 275.5h-2.8M371.5 263.5h2.8M682.5 263.5h-2.8M371.5 257.5h2.8M682.5 257.5h-2.8M371.5 250.5h2.8M682.5 250.5h-2.8M371.5 244.5h2.8M682.5 244.5h-2.8M371.5 232.5h2.8M682.5 232.5h-2.8M371.5 225.5h2.8M682.5 225.5h-2.8"/>
<g clip-path="none"><polyline class="ln" stroke="#000" points="377.33,308.72 380.36,303.95 383.39,300.2 386.42,312.15 389.45,301.6 392.49,305.85 395.52,308.37 398.55,300.76 401.58,307.44 404.61,306.48 407.64,312.17 410.67,310.19 413.7,305.33 416.73,298.2 419.77,301.97 422.8,305.29 425.83,304.37 428.86,309.57 431.89,306.01 434.92,301.26 437.95,299.59 440.98,291.46 444.01,302.71 447.05,291.7 450.08,300.64 453.11,300.91 456.14,304.31 459.17,295.12 462.2,303.29 465.23,313.5 468.26,296.09 471.29,303.01 474.33,301.15 477.36,307.73 480.39,308.78 483.42,304.16 486.45,297.03 489.48,299.26 492.51,302.59 495.54,297.26 498.57,283.34 501.61,287.83 504.64,299.55 507.67,287 510.7,292.99 513.73,296.32 516.76,299.93 519.79,306.5 522.82,280.48 525.85,332.53 528.89,301.97 531.92,288.87 534.95,289.49 537.98,301.69 541.01,309.09 544.04,336.7 547.07,306.29 550.1,282.32 553.13,296.3 556.17,316.93 559.2,295.51 562.23,314.29 565.26,325.55 568.29,326.67 571.32,327.83 574.35,291.68 577.38,313.75 580.41,343.55 583.45,293.99 586.48,296.31 589.51,335.97 592.54,300.83 595.57,293.98 598.6,325.16 601.63,315.42 604.66,307.94 607.69,294.18 610.73,310.38 613.76,306.07 616.79,299.07 619.82,301.93 622.85,301.2 625.88,266.97 628.91,309.79 631.94,311.54 634.97,304.83 638.01,256.51 641.04,288.57 644.07,318.24 647.1,290.51 650.13,290.92 653.16,286.75 656.19,295.4 659.22,291.04 662.25,260.16 665.29,279.9 668.32,257.64 671.35,264.55 674.38,283.34 677.41,277.08"/>
<path d="M377.33 300.95H678.21" stroke="#333" stroke-width="1.7" stroke-dasharray="1.6 1.1" fill="none"/>
<polyline class="ln" stroke="#e8001c" points="377.33,307.72 380.36,307.86 383.39,308 386.42,308.13 389.45,308.24 392.49,308.34 395.52,308.42 398.55,308.47 401.58,308.48 404.61,308.47 407.64,308.41 410.67,308.31 413.7,308.17 416.73,307.97 419.77,307.72 422.8,307.41 425.83,307.07 428.86,306.72 431.89,306.38 434.92,306.09 437.95,305.85 440.98,305.67 444.01,305.53 447.05,305.42 450.08,305.34 453.11,305.26 456.14,305.19 459.17,305.12 462.2,305.04 465.23,304.96 468.26,304.87 471.29,304.76 474.33,304.66 477.36,304.56 480.39,304.46 483.42,304.37 486.45,304.29 489.48,304.22 492.51,304.15 495.54,304.08 498.57,304.01 501.61,303.93 504.64,303.85 507.67,303.75 510.7,303.64 513.73,303.52 516.76,303.38 519.79,303.22 522.82,303.04 525.85,302.83 528.89,302.6 531.92,302.33 534.95,302.02 537.98,301.67 541.01,301.26 544.04,300.82 547.07,300.46 550.1,300.32 553.13,300.5 556.17,300.89 559.2,301.36 562.23,301.76 565.26,301.98 568.29,301.99 571.32,301.76 574.35,301.33 577.38,300.8 580.41,300.32 583.45,299.98 586.48,299.7 589.51,299.35 592.54,298.95 595.57,298.5 598.6,298.03 601.63,297.57 604.66,297.12 607.69,296.68 610.73,296.25 613.76,295.79 616.79,295.31 619.82,294.79 622.85,294.24 625.88,293.65 628.91,293.05 631.94,292.43 634.97,291.81 638.01,291.28 641.04,290.93 644.07,290.8 647.1,290.78 650.13,290.73 653.16,290.49 656.19,289.95 659.22,289.21 662.25,288.42 665.29,287.69 668.32,287.03 671.35,286.42 674.38,285.84 677.41,285.29"/>
<polyline class="ln" stroke="#00ee00" points="377.33,298.44 380.36,298.29 383.39,298.17 386.42,298.08 389.45,298.07 392.49,298.15 395.52,298.4 398.55,298.88 401.58,299.6 404.61,300.21 407.64,300.32 410.67,299.69 413.7,298.74 416.73,298.07 419.77,298.09 422.8,298.52 425.83,298.88 428.86,298.79 431.89,298.07 434.92,296.75 437.95,295.31 440.98,294.26 444.01,293.75 447.05,293.8 450.08,294.37 453.11,295.34 456.14,296.56 459.17,297.84 462.2,298.88 465.23,299.47 468.26,299.7 471.29,299.83 474.33,300.32 477.36,301.37 480.39,301.76 483.42,300.42 486.45,298.07 489.48,295.68 492.51,293.43 495.54,291.37 498.57,289.67 501.61,288.61 504.64,288.51 507.67,289.52 510.7,291.55 513.73,294.37 516.76,297.19 519.79,299.22 522.82,300.32 525.85,300.58 528.89,300.32 531.92,300.02 534.95,300.32 537.98,301.6 541.01,302.83 544.04,302.99 547.07,302.39 550.1,301.74 553.13,302.08 556.17,304.46 559.2,309.2 562.23,314.11 565.26,317 568.29,318.12 571.32,317.87 574.35,315.74 577.38,313.9 580.41,312.54 583.45,311.25 586.48,310.1 589.51,309.37 592.54,309.72 595.57,311.47 598.6,313.29 601.63,313.79 604.66,313.02 607.69,311.6 610.73,310.07 613.76,308.47 616.79,306.78 619.82,305.34 622.85,304.41 625.88,303.71 628.91,302.9 631.94,302.08 634.97,301.44 638.01,301.26 641.04,301.72 644.07,302.39 647.1,302.74 650.13,302.39 653.16,300.97 656.19,298.07 659.22,293.63 662.25,289.23 665.29,286.4 668.32,284.91 671.35,284.41 674.38,285.29 677.41,286.79"/>
<polyline class="ln" stroke="#0000f0" points="377.33,304.46 380.36,299.7 383.39,295.94 386.42,307.84 389.45,297.19 392.49,301.26 395.52,303.46 398.55,295.31 401.58,301.26 404.61,299.7 407.64,305.34 410.67,304.08 413.7,300.32 416.73,294.06 419.77,298.07 422.8,301.26 425.83,300.32 428.86,305.96 431.89,303.46 434.92,300.32 437.95,300.32 440.98,293.43 444.01,305.34 447.05,294.37 450.08,302.83 453.11,302.2 456.14,304.46 459.17,294.06 462.2,301.26 465.23,310.97 468.26,293.43 471.29,300.32 474.33,298.07 477.36,303.71 480.39,304.46 483.42,301.26 486.45,296.56 489.48,301.26 492.51,306.9 495.54,303.71 498.57,291.55 501.61,297.19 504.64,309.09 507.67,295.62 510.7,299.7 513.73,300.32 516.76,301.26 519.79,305.96 522.82,279.02 525.85,331.02 528.89,300.95 531.92,288.42 534.95,289.05 537.98,300.32 541.01,306.9 544.04,334.78 547.07,305.34 550.1,282.15 553.13,295.62 556.17,313.48 559.2,286.85 562.23,300.32 565.26,308.47 568.29,308.47 571.32,310.1 574.35,276.52 577.38,300.95 580.41,324.76 583.45,284.66 586.48,288.42 589.51,329.14 592.54,294.06 595.57,285.91 598.6,315.74 601.63,305.96 604.66,299.7 607.69,287.79 610.73,305.96 613.76,303.71 616.79,298.88 619.82,303.71 622.85,304.46 625.88,271.5 628.91,315.74 631.94,318.93 634.97,313.48 638.01,265.87 641.04,297.82 644.07,326.95 647.1,298.88 650.13,299.7 653.16,297.19 656.19,309.28 659.22,310.1 662.25,284.41 665.29,307.72 668.32,287.61 671.35,295.62 674.38,314.11 677.41,306.9"/>
</g>
<rect class="fr" x="371.5" y="221.5" width="311" height="159"/>
<path d="M380.8 229.6H398" stroke="#000" stroke-width="2.35" fill="none"/><text class="lg" x="402.7" y="231.85" fill="#000" stroke="#000">Temperature (raw)</text>
<path d="M380.8 236.13H398" stroke="#e8001c" stroke-width="2.35" fill="none"/><text class="lg" x="402.7" y="238.38" fill="#b8202c" stroke="#b8202c">Trend</text>
<path d="M380.8 242.66H398" stroke="#00ee00" stroke-width="2.35" fill="none"/><text class="lg" x="402.7" y="244.91" fill="#22c022" stroke="#22c022">Decadal</text>
<path d="M380.8 249.19H398" stroke="#0000f0" stroke-width="2.35" fill="none"/><text class="lg" x="402.7" y="251.44" fill="#2828c8" stroke="#2828c8">Inter-annual</text>
<text class="tl" text-anchor="middle" x="402.7" y="389.8">Jan</text><text class="tl" text-anchor="middle" x="402.7" y="397.1">1910</text>
<text class="tl" text-anchor="middle" x="433.01" y="389.8">Jan</text><text class="tl" text-anchor="middle" x="433.01" y="397.1">1920</text>
<text class="tl" text-anchor="middle" x="463.32" y="389.8">Jan</text><text class="tl" text-anchor="middle" x="463.32" y="397.1">1930</text>
<text class="tl" text-anchor="middle" x="493.63" y="389.8">Jan</text><text class="tl" text-anchor="middle" x="493.63" y="397.1">1940</text>
<text class="tl" text-anchor="middle" x="523.94" y="389.8">Jan</text><text class="tl" text-anchor="middle" x="523.94" y="397.1">1950</text>
<text class="tl" text-anchor="middle" x="554.26" y="389.8">Jan</text><text class="tl" text-anchor="middle" x="554.26" y="397.1">1960</text>
<text class="tl" text-anchor="middle" x="584.57" y="389.8">Jan</text><text class="tl" text-anchor="middle" x="584.57" y="397.1">1970</text>
<text class="tl" text-anchor="middle" x="614.88" y="389.8">Jan</text><text class="tl" text-anchor="middle" x="614.88" y="397.1">1980</text>
<text class="tl" text-anchor="middle" x="645.19" y="389.8">Jan</text><text class="tl" text-anchor="middle" x="645.19" y="397.1">1990</text>
<text class="tl" text-anchor="middle" x="675.5" y="389.8">Jan</text><text class="tl" text-anchor="middle" x="675.5" y="397.1">2000</text>
<text text-anchor="middle" x="527" y="403.5" font-size="6.8px" fill="#111">Time</text>
<text class="tl" text-anchor="middle" transform="translate(366.5 363.6) rotate(-90)">-1</text>
<text class="tl" text-anchor="middle" transform="translate(366.5 332.27) rotate(-90)">-0.5</text>
<text class="tl" text-anchor="middle" transform="translate(366.5 300.95) rotate(-90)">0</text>
<text class="tl" text-anchor="middle" transform="translate(366.5 269.62) rotate(-90)">0.5</text>
<text class="tl" text-anchor="middle" transform="translate(366.5 238.3) rotate(-90)">1</text>
<text class="pl" transform="translate(370.5 218.6) scale(1.08 1)">d</text>
</g>
<g id="panel-e">
<path class="tk" d="M42.5 424.5v4.1M42.5 583.5v-4.1M72.5 424.5v4.1M72.5 583.5v-4.1M102.5 424.5v4.1M102.5 583.5v-4.1M133.5 424.5v4.1M133.5 583.5v-4.1M163.5 424.5v4.1M163.5 583.5v-4.1M193.5 424.5v4.1M193.5 583.5v-4.1M224.5 424.5v4.1M224.5 583.5v-4.1M254.5 424.5v4.1M254.5 583.5v-4.1M284.5 424.5v4.1M284.5 583.5v-4.1M315.5 424.5v4.1M315.5 583.5v-4.1M11.5 579.5h4.1M322.5 579.5h-4.1M11.5 542.5h4.1M322.5 542.5h-4.1M11.5 504.5h4.1M322.5 504.5h-4.1M11.5 466.5h4.1M322.5 466.5h-4.1M11.5 428.5h4.1M322.5 428.5h-4.1"/>
<path class="tm" d="M27.5 424.5v2.8M27.5 583.5v-2.8M57.5 424.5v2.8M57.5 583.5v-2.8M87.5 424.5v2.8M87.5 583.5v-2.8M118.5 424.5v2.8M118.5 583.5v-2.8M148.5 424.5v2.8M148.5 583.5v-2.8M178.5 424.5v2.8M178.5 583.5v-2.8M209.5 424.5v2.8M209.5 583.5v-2.8M239.5 424.5v2.8M239.5 583.5v-2.8M269.5 424.5v2.8M269.5 583.5v-2.8M299.5 424.5v2.8M299.5 583.5v-2.8M11.5 572.5h2.8M322.5 572.5h-2.8M11.5 564.5h2.8M322.5 564.5h-2.8M11.5 557.5h2.8M322.5 557.5h-2.8M11.5 549.5h2.8M322.5 549.5h-2.8M11.5 534.5h2.8M322.5 534.5h-2.8M11.5 526.5h2.8M322.5 526.5h-2.8M11.5 519.5h2.8M322.5 519.5h-2.8M11.5 511.5h2.8M322.5 511.5h-2.8M11.5 496.5h2.8M322.5 496.5h-2.8M11.5 489.5h2.8M322.5 489.5h-2.8M11.5 481.5h2.8M322.5 481.5h-2.8M11.5 474.5h2.8M322.5 474.5h-2.8M11.5 459.5h2.8M322.5 459.5h-2.8M11.5 451.5h2.8M322.5 451.5h-2.8M11.5 443.5h2.8M322.5 443.5h-2.8M11.5 436.5h2.8M322.5 436.5h-2.8"/>
<g clip-path="none"><polyline class="ln" stroke="#000" points="16.75,477.34 19.78,516.96 22.81,547.06 25.84,505.19 28.87,533.75 31.9,503.27 34.93,475.27 37.97,521.53 41,471.56 44.03,496.51 47.06,501.32 50.09,520.16 53.12,519.01 56.15,498.64 59.18,511.16 62.21,529.54 65.25,477.56 68.28,471.09 71.31,524.62 74.34,492.04 77.37,473.16 80.4,546.65 83.43,481.27 86.46,515.4 89.49,454.52 92.53,491.99 95.56,537.48 98.59,513.44 101.62,489.25 104.65,526.84 107.68,522.47 110.71,514.58 113.74,540.78 116.77,465.62 119.81,543.15 122.84,486.81 125.87,512.22 128.9,502.34 131.93,464.68 134.96,499.85 137.99,533.19 141.02,505.76 144.05,477.48 147.09,509.57 150.12,527.89 153.15,521.15 156.18,520.43 159.21,494.97 162.24,526.9 165.27,482.4 168.3,512.61 171.33,500.8 174.37,465.14 177.4,485.32 180.43,469.67 183.46,476.08 186.49,487.64 189.52,475.33 192.55,506.03 195.58,514.15 198.61,491.01 201.65,498.3 204.68,480.5 207.71,537.49 210.74,551.81 213.77,514.14 216.8,477.16 219.83,514.1 222.86,487.2 225.89,542.38 228.93,507.32 231.96,504.69 234.99,505.45 238.02,429.69 241.05,489.27 244.08,441.04 247.11,460.28 250.14,455.97 253.17,515.46 256.21,495.81 259.24,487.44 262.27,531.32 265.3,530.22 268.33,526.5 271.36,505.36 274.39,506.61 277.42,531.6 280.45,487.11 283.49,496.13 286.52,527.19 289.55,511.93 292.58,562.38 295.61,512.3 298.64,543.47 301.67,532.04 304.7,497.18 307.73,485.43 310.77,505.8 313.8,523.65 316.83,461.51"/>
<path d="M16.75 504.3H317.63" stroke="#333" stroke-width="1.7" stroke-dasharray="1.6 1.1" fill="none"/>
<polyline class="ln" stroke="#e8001c" points="16.75,503.73 19.78,503.72 22.81,503.7 25.84,503.68 28.87,503.67 31.9,503.65 34.93,503.63 37.97,503.62 41,503.6 44.03,503.59 47.06,503.58 50.09,503.57 53.12,503.55 56.15,503.54 59.18,503.54 62.21,503.53 65.25,503.52 68.28,503.52 71.31,503.51 74.34,503.51 77.37,503.51 80.4,503.51 83.43,503.52 86.46,503.52 89.49,503.53 92.53,503.54 95.56,503.55 98.59,503.56 101.62,503.58 104.65,503.6 107.68,503.62 110.71,503.64 113.74,503.67 116.77,503.7 119.81,503.73 122.84,503.77 125.87,503.81 128.9,503.85 131.93,503.89 134.96,503.93 137.99,503.98 141.02,504.02 144.05,504.06 147.09,504.1 150.12,504.14 153.15,504.18 156.18,504.22 159.21,504.25 162.24,504.28 165.27,504.3 168.3,504.32 171.33,504.33 174.37,504.35 177.4,504.35 180.43,504.36 183.46,504.36 186.49,504.36 189.52,504.36 192.55,504.35 195.58,504.35 198.61,504.34 201.65,504.33 204.68,504.33 207.71,504.32 210.74,504.31 213.77,504.31 216.8,504.3 219.83,504.3 222.86,504.3 225.89,504.3 228.93,504.3 231.96,504.31 234.99,504.32 238.02,504.34 241.05,504.35 244.08,504.37 247.11,504.39 250.14,504.42 253.17,504.45 256.21,504.48 259.24,504.51 262.27,504.55 265.3,504.59 268.33,504.63 271.36,504.68 274.39,504.73 277.42,504.78 280.45,504.83 283.49,504.89 286.52,504.95 289.55,505.01 292.58,505.07 295.61,505.14 298.64,505.2 301.67,505.27 304.7,505.34 307.73,505.41 310.77,505.48 313.8,505.55 316.83,505.62"/>
<polyline class="ln" stroke="#00ee00" points="16.75,518.63 19.78,519.43 22.81,519.38 25.84,517.5 28.87,512.89 31.9,507.32 34.93,502.83 37.97,499.96 41,499.02 44.03,500.61 47.06,503.92 50.09,507.7 53.12,510.33 56.15,510.33 59.18,507.4 62.21,503.17 65.25,499.45 68.28,497.14 71.31,496.76 74.34,498.11 77.37,499.96 80.4,501.07 83.43,500.91 86.46,499.59 89.49,499.02 92.53,501.04 95.56,505.43 98.59,511.16 101.62,515.99 104.65,518.11 107.68,518.63 110.71,518.63 113.74,516.91 116.77,513.73 119.81,509.79 122.84,505.43 125.87,501.02 128.9,497.51 131.93,496.01 134.96,497.2 137.99,499.96 141.02,503.02 144.05,506.37 147.09,510.14 150.12,513.73 153.15,515.99 156.18,515.23 159.21,512.37 162.24,508.07 165.27,502.75 168.3,496.76 171.33,490.59 174.37,485.45 177.4,482.25 180.43,480.55 183.46,481.3 186.49,483.81 189.52,487.71 192.55,492.79 195.58,498.27 198.61,503.41 201.65,508.07 204.68,512.15 207.71,515.23 210.74,516.74 213.77,516.02 216.8,513.73 219.83,511.09 222.86,509.44 225.89,507.32 228.93,502.79 231.96,495.25 234.99,484.7 238.02,473.39 241.05,466.98 244.08,465.47 247.11,468.49 250.14,476.59 253.17,486.66 256.21,497.51 259.24,508.34 262.27,516.74 265.3,520.51 268.33,520.13 271.36,517.43 274.39,513.73 277.42,510.38 280.45,509.58 283.49,512.88 286.52,518.63 289.55,524.41 292.58,528.05 295.61,528.05 298.64,525.22 301.67,520.13 304.7,513.48 307.73,507.32 310.77,503.49 313.8,501.66 316.83,500.91"/>
<polyline class="ln" stroke="#0000f0" points="16.75,463.58 19.78,502.42 22.81,532.58 25.84,492.61 28.87,525.79 31.9,500.91 34.93,473.39 37.97,526.54 41,477.53 44.03,500.91 47.06,502.42 50.09,517.5 53.12,513.73 56.15,493.37 59.18,508.82 62.21,531.44 65.25,483.19 68.28,479.04 71.31,532.95 74.34,499.02 77.37,478.29 80.4,550.67 83.43,485.45 86.46,520.89 89.49,460.57 92.53,496.01 95.56,537.1 98.59,507.32 101.62,478.29 104.65,513.73 107.68,508.82 110.71,500.91 113.74,528.81 116.77,456.8 119.81,538.23 122.84,486.2 125.87,515.99 128.9,509.58 131.93,473.39 134.96,507.32 137.99,537.85 141.02,507.32 144.05,475.65 147.09,503.92 150.12,518.63 153.15,509.58 156.18,509.58 159.21,486.96 162.24,523.15 165.27,483.94 168.3,520.13 171.33,514.48 174.37,483.94 177.4,507.32 180.43,493.37 183.46,499.02 186.49,508.07 189.52,491.86 192.55,517.5 195.58,520.13 198.61,491.86 201.65,494.5 204.68,472.63 207.71,526.54 210.74,539.36 213.77,502.42 216.8,467.73 219.83,507.32 222.86,482.06 225.89,539.36 228.93,508.82 231.96,513.73 234.99,525.03 238.02,460.57 241.05,526.54 244.08,479.8 247.11,496.01 250.14,483.56 253.17,532.95 256.21,502.42 259.24,483.19 262.27,518.63 265.3,513.73 268.33,510.33 271.36,491.86 274.39,496.76 277.42,525.03 280.45,481.3 283.49,486.96 286.52,512.22 289.55,491.11 292.58,537.85 295.61,487.71 298.64,521.64 301.67,515.23 304.7,486.96 307.73,481.3 310.77,505.43 313.8,525.03 316.83,463.58"/>
</g>
<rect class="fr" x="11.5" y="424.5" width="311" height="159"/>
<path d="M20.8 432.6H38" stroke="#000" stroke-width="2.35" fill="none"/><text class="lg" x="42.7" y="434.85" fill="#000" stroke="#000">Precipitation (raw)</text>
<path d="M20.8 439.13H38" stroke="#e8001c" stroke-width="2.35" fill="none"/><text class="lg" x="42.7" y="441.38" fill="#b8202c" stroke="#b8202c">Trend</text>
<path d="M20.8 445.66H38" stroke="#00ee00" stroke-width="2.35" fill="none"/><text class="lg" x="42.7" y="447.91" fill="#22c022" stroke="#22c022">Decadal</text>
<path d="M20.8 452.19H38" stroke="#0000f0" stroke-width="2.35" fill="none"/><text class="lg" x="42.7" y="454.44" fill="#2828c8" stroke="#2828c8">Inter-annual</text>
<text class="tl" text-anchor="middle" x="42.3" y="592.8">Jan</text><text class="tl" text-anchor="middle" x="42.3" y="600.1">1910</text>
<text class="tl" text-anchor="middle" x="72.61" y="592.8">Jan</text><text class="tl" text-anchor="middle" x="72.61" y="600.1">1920</text>
<text class="tl" text-anchor="middle" x="102.92" y="592.8">Jan</text><text class="tl" text-anchor="middle" x="102.92" y="600.1">1930</text>
<text class="tl" text-anchor="middle" x="133.23" y="592.8">Jan</text><text class="tl" text-anchor="middle" x="133.23" y="600.1">1940</text>
<text class="tl" text-anchor="middle" x="163.54" y="592.8">Jan</text><text class="tl" text-anchor="middle" x="163.54" y="600.1">1950</text>
<text class="tl" text-anchor="middle" x="193.86" y="592.8">Jan</text><text class="tl" text-anchor="middle" x="193.86" y="600.1">1960</text>
<text class="tl" text-anchor="middle" x="224.17" y="592.8">Jan</text><text class="tl" text-anchor="middle" x="224.17" y="600.1">1970</text>
<text class="tl" text-anchor="middle" x="254.48" y="592.8">Jan</text><text class="tl" text-anchor="middle" x="254.48" y="600.1">1980</text>
<text class="tl" text-anchor="middle" x="284.79" y="592.8">Jan</text><text class="tl" text-anchor="middle" x="284.79" y="600.1">1990</text>
<text class="tl" text-anchor="middle" x="315.1" y="592.8">Jan</text><text class="tl" text-anchor="middle" x="315.1" y="600.1">2000</text>
<text text-anchor="middle" x="167" y="606.5" font-size="6.8px" fill="#111">Time</text>
<text class="tl" text-anchor="middle" transform="translate(6.5 579.7) rotate(-90)">-20</text>
<text class="tl" text-anchor="middle" transform="translate(6.5 542) rotate(-90)">-10</text>
<text class="tl" text-anchor="middle" transform="translate(6.5 504.3) rotate(-90)">0</text>
<text class="tl" text-anchor="middle" transform="translate(6.5 466.6) rotate(-90)">10</text>
<text class="tl" text-anchor="middle" transform="translate(6.5 428.9) rotate(-90)">20</text>
<text class="pl" transform="translate(7.6 420.5) scale(1.12 1)">e</text>
</g>
<g id="panel-f">
<path class="tk" d="M402.5 424.5v4.1M402.5 583.5v-4.1M433.5 424.5v4.1M433.5 583.5v-4.1M463.5 424.5v4.1M463.5 583.5v-4.1M493.5 424.5v4.1M493.5 583.5v-4.1M523.5 424.5v4.1M523.5 583.5v-4.1M554.5 424.5v4.1M554.5 583.5v-4.1M584.5 424.5v4.1M584.5 583.5v-4.1M614.5 424.5v4.1M614.5 583.5v-4.1M645.5 424.5v4.1M645.5 583.5v-4.1M675.5 424.5v4.1M675.5 583.5v-4.1M371.5 566.5h4.1M682.5 566.5h-4.1M371.5 535.5h4.1M682.5 535.5h-4.1M371.5 504.5h4.1M682.5 504.5h-4.1M371.5 472.5h4.1M682.5 472.5h-4.1M371.5 441.5h4.1M682.5 441.5h-4.1"/>
<path class="tm" d="M387.5 424.5v2.8M387.5 583.5v-2.8M417.5 424.5v2.8M417.5 583.5v-2.8M448.5 424.5v2.8M448.5 583.5v-2.8M478.5 424.5v2.8M478.5 583.5v-2.8M508.5 424.5v2.8M508.5 583.5v-2.8M539.5 424.5v2.8M539.5 583.5v-2.8M569.5 424.5v2.8M569.5 583.5v-2.8M599.5 424.5v2.8M599.5 583.5v-2.8M630.5 424.5v2.8M630.5 583.5v-2.8M660.5 424.5v2.8M660.5 583.5v-2.8M371.5 579.5h2.8M682.5 579.5h-2.8M371.5 573.5h2.8M682.5 573.5h-2.8M371.5 560.5h2.8M682.5 560.5h-2.8M371.5 554.5h2.8M682.5 554.5h-2.8M371.5 548.5h2.8M682.5 548.5h-2.8M371.5 541.5h2.8M682.5 541.5h-2.8M371.5 529.5h2.8M682.5 529.5h-2.8M371.5 522.5h2.8M682.5 522.5h-2.8M371.5 516.5h2.8M682.5 516.5h-2.8M371.5 510.5h2.8M682.5 510.5h-2.8M371.5 497.5h2.8M682.5 497.5h-2.8M371.5 491.5h2.8M682.5 491.5h-2.8M371.5 485.5h2.8M682.5 485.5h-2.8M371.5 478.5h2.8M682.5 478.5h-2.8M371.5 466.5h2.8M682.5 466.5h-2.8M371.5 460.5h2.8M682.5 460.5h-2.8M371.5 453.5h2.8M682.5 453.5h-2.8M371.5 447.5h2.8M682.5 447.5h-2.8M371.5 435.5h2.8M682.5 435.5h-2.8M371.5 428.5h2.8M682.5 428.5h-2.8"/>
<g clip-path="none"><polyline class="ln" stroke="#000" points="377.33,524.51 380.36,524.18 383.39,518.73 386.42,545.85 389.45,514.65 392.49,542.46 395.52,556.02 398.55,527.92 401.58,534.92 404.61,549.69 407.64,539.48 410.67,513.1 413.7,508.31 416.73,501.28 419.77,516.54 422.8,515.72 425.83,533.18 428.86,546.22 431.89,526.41 434.92,511.81 437.95,536.06 440.98,490.53 444.01,506.36 447.05,536.86 450.08,536 453.11,525.35 456.14,515 459.17,506.95 462.2,515.35 465.23,529.49 468.26,487.65 471.29,494.87 474.33,493.11 477.36,491.48 480.39,532.62 483.42,522.75 486.45,516.74 489.48,499.86 492.51,531.23 495.54,493.42 498.57,472.57 501.61,483.76 504.64,516.92 507.67,489.58 510.7,486.72 513.73,485.04 516.76,483.88 519.79,512.92 522.82,470.92 525.85,498.74 528.89,518.84 531.92,488.46 534.95,519.55 537.98,523.15 541.01,539.93 544.04,515.01 547.07,486.62 550.1,499.18 553.13,497.05 556.17,497.95 559.2,505.8 562.23,501.43 565.26,520.05 568.29,518.07 571.32,514.65 574.35,486.53 577.38,518.54 580.41,518.04 583.45,488.96 586.48,484.13 589.51,510.26 592.54,498.33 595.57,486.55 598.6,545.72 601.63,519.42 604.66,543.97 607.69,494.26 610.73,515.71 613.76,489.87 616.79,492.89 619.82,520.99 622.85,481.93 625.88,451.03 628.91,469.72 631.94,472.95 634.97,485.59 638.01,451.93 641.04,484.7 644.07,500.21 647.1,473.05 650.13,486.17 653.16,450.49 656.19,462.78 659.22,485.12 662.25,448.02 665.29,484.75 668.32,466.36 671.35,445.66 674.38,455.36 677.41,485.51"/>
<path d="M377.33 504.1H678.21" stroke="#333" stroke-width="1.7" stroke-dasharray="1.6 1.1" fill="none"/>
<polyline class="ln" stroke="#e8001c" points="377.33,521.06 380.36,522.48 383.39,523.76 386.42,524.73 389.45,525.33 392.49,525.51 395.52,525.38 398.55,525.03 401.58,524.6 404.61,524.2 407.64,523.88 410.67,523.53 413.7,522.94 416.73,522.01 419.77,520.88 422.8,519.8 425.83,518.94 428.86,518.27 431.89,517.75 434.92,517.29 437.95,516.85 440.98,516.42 444.01,516.03 447.05,515.69 450.08,515.4 453.11,515.21 456.14,515.13 459.17,515.22 462.2,515.48 465.23,515.8 468.26,516.03 471.29,516.04 474.33,515.72 477.36,515.04 480.39,514.16 483.42,513.27 486.45,512.54 489.48,511.98 492.51,511.58 495.54,511.32 498.57,511.19 501.61,511.14 504.64,511.15 507.67,511.18 510.7,511.2 513.73,511.17 516.76,511.07 519.79,510.87 522.82,510.54 525.85,510.07 528.89,509.42 531.92,508.6 534.95,507.62 537.98,506.51 541.01,505.39 544.04,504.41 547.07,503.7 550.1,503.28 553.13,503.21 556.17,503.6 559.2,504.51 562.23,505.64 565.26,506.61 568.29,507.08 571.32,506.86 574.35,505.85 577.38,504.1 580.41,502.03 583.45,500.77 586.48,500.08 589.51,499.42 592.54,498.65 595.57,497.76 598.6,496.74 601.63,495.56 604.66,494.23 607.69,492.82 610.73,491.42 613.76,490.13 616.79,489.03 619.82,488.15 622.85,487.21 625.88,485.89 628.91,483.98 631.94,481.87 634.97,480.02 638.01,478.55 641.04,477.54 644.07,476.97 647.1,476.72 650.13,476.56 653.16,476.24 656.19,475.46 659.22,474.05 662.25,472.2 665.29,470.15 668.32,467.99 671.35,465.79 674.38,463.59 677.41,461.4"/>
<polyline class="ln" stroke="#00ee00" points="377.33,507.24 380.36,507.87 383.39,509.12 386.42,511.4 389.45,514.15 392.49,516.65 395.52,518.42 398.55,518.92 401.58,517.31 404.61,513.27 407.64,507.14 410.67,501.21 413.7,498.01 416.73,498.45 419.77,501.01 422.8,504.41 425.83,507.67 428.86,510.07 431.89,510.88 434.92,509.55 437.95,507.62 440.98,506.85 444.01,507.62 447.05,509.57 450.08,510.88 453.11,509.85 456.14,506.86 459.17,502.74 462.2,498.01 465.23,493.3 468.26,489.91 471.29,489.03 474.33,490.91 477.36,495.62 480.39,501.21 483.42,505.23 486.45,505.54 489.48,502.03 492.51,496.75 495.54,491.54 498.57,487.72 501.61,485.26 504.64,483.81 507.67,483 510.7,482.52 513.73,482.37 516.76,483 519.79,485.67 522.82,489.91 525.85,494.85 528.89,500.33 531.92,506.2 534.95,511.64 537.98,515.72 541.01,517.29 544.04,514.7 547.07,510.07 550.1,506.08 553.13,503.6 556.17,502.84 559.2,503.51 562.23,505.23 565.26,507.49 568.29,509.12 571.32,509.12 574.35,507.83 577.38,505.98 580.41,504.1 583.45,502.34 586.48,502.34 589.51,504.89 592.54,510.07 595.57,517.38 598.6,524.57 601.63,529.22 604.66,530.16 607.69,527.78 610.73,523.99 613.76,518.92 616.79,512.36 619.82,505.23 622.85,498.82 625.88,494.68 628.91,493.61 631.94,494.05 634.97,496.48 638.01,499.7 641.04,502.09 644.07,502.84 647.1,501.69 650.13,499.7 653.16,498.13 656.19,497.51 659.22,497.96 662.25,498.76 665.29,499.23 668.32,499.7 671.35,500.55 674.38,501.21 677.41,501.21"/>
<polyline class="ln" stroke="#0000f0" points="377.33,504.41 380.36,502.03 383.39,494.05 386.42,517.92 389.45,483.38 392.49,508.5 395.52,520.43 398.55,492.17 401.58,501.21 404.61,520.43 407.64,516.66 410.67,496.56 413.7,495.56 416.73,489.03 419.77,502.84 422.8,499.7 425.83,514.78 428.86,526.08 431.89,505.98 434.92,493.17 437.95,519.8 440.98,475.46 444.01,490.91 447.05,519.8 450.08,517.92 453.11,508.5 456.14,501.21 459.17,497.19 462.2,510.07 465.23,528.59 468.26,489.91 471.29,498.01 474.33,494.68 477.36,489.03 480.39,525.45 483.42,512.45 486.45,506.86 489.48,494.05 492.51,531.1 495.54,498.76 498.57,481.87 501.61,495.56 504.64,530.16 507.67,503.6 510.7,501.21 513.73,499.7 516.76,498.01 519.79,524.57 522.82,478.67 525.85,502.03 528.89,517.29 531.92,481.87 534.95,508.5 537.98,509.12 541.01,525.45 544.04,504.1 547.07,481.05 550.1,498.01 553.13,498.45 556.17,499.7 559.2,505.98 562.23,498.76 565.26,514.15 568.29,510.07 571.32,506.86 574.35,481.05 577.38,516.66 580.41,520.11 583.45,494.05 586.48,489.91 589.51,514.15 592.54,497.82 595.57,479.61 598.6,532.61 601.63,502.84 604.66,527.78 607.69,481.87 610.73,508.5 613.76,489.03 616.79,499.7 619.82,535.81 622.85,504.1 625.88,478.67 628.91,500.33 631.94,505.23 634.97,517.29 638.01,481.87 641.04,513.27 644.07,528.59 647.1,502.84 650.13,518.1 653.16,484.32 656.19,498.01 659.22,521.31 662.25,485.26 665.29,523.57 668.32,506.86 671.35,487.52 674.38,498.76 677.41,531.1"/>
</g>
<rect class="fr" x="371.5" y="424.5" width="311" height="159"/>
<path d="M380.8 432.6H398" stroke="#000" stroke-width="2.35" fill="none"/><text class="lg" x="402.7" y="434.85" fill="#000" stroke="#000">Temperature (raw)</text>
<path d="M380.8 439.13H398" stroke="#e8001c" stroke-width="2.35" fill="none"/><text class="lg" x="402.7" y="441.38" fill="#b8202c" stroke="#b8202c">Trend</text>
<path d="M380.8 445.66H398" stroke="#00ee00" stroke-width="2.35" fill="none"/><text class="lg" x="402.7" y="447.91" fill="#22c022" stroke="#22c022">Decadal</text>
<path d="M380.8 452.19H398" stroke="#0000f0" stroke-width="2.35" fill="none"/><text class="lg" x="402.7" y="454.44" fill="#2828c8" stroke="#2828c8">Inter-annual</text>
<text class="tl" text-anchor="middle" x="402.7" y="592.8">Jan</text><text class="tl" text-anchor="middle" x="402.7" y="600.1">1910</text>
<text class="tl" text-anchor="middle" x="433.01" y="592.8">Jan</text><text class="tl" text-anchor="middle" x="433.01" y="600.1">1920</text>
<text class="tl" text-anchor="middle" x="463.32" y="592.8">Jan</text><text class="tl" text-anchor="middle" x="463.32" y="600.1">1930</text>
<text class="tl" text-anchor="middle" x="493.63" y="592.8">Jan</text><text class="tl" text-anchor="middle" x="493.63" y="600.1">1940</text>
<text class="tl" text-anchor="middle" x="523.94" y="592.8">Jan</text><text class="tl" text-anchor="middle" x="523.94" y="600.1">1950</text>
<text class="tl" text-anchor="middle" x="554.26" y="592.8">Jan</text><text class="tl" text-anchor="middle" x="554.26" y="600.1">1960</text>
<text class="tl" text-anchor="middle" x="584.57" y="592.8">Jan</text><text class="tl" text-anchor="middle" x="584.57" y="600.1">1970</text>
<text class="tl" text-anchor="middle" x="614.88" y="592.8">Jan</text><text class="tl" text-anchor="middle" x="614.88" y="600.1">1980</text>
<text class="tl" text-anchor="middle" x="645.19" y="592.8">Jan</text><text class="tl" text-anchor="middle" x="645.19" y="600.1">1990</text>
<text class="tl" text-anchor="middle" x="675.5" y="592.8">Jan</text><text class="tl" text-anchor="middle" x="675.5" y="600.1">2000</text>
<text text-anchor="middle" x="527" y="606.5" font-size="6.8px" fill="#111">Time</text>
<text class="tl" text-anchor="middle" transform="translate(366.5 566.9) rotate(-90)">-1</text>
<text class="tl" text-anchor="middle" transform="translate(366.5 535.5) rotate(-90)">-0.5</text>
<text class="tl" text-anchor="middle" transform="translate(366.5 504.1) rotate(-90)">0</text>
<text class="tl" text-anchor="middle" transform="translate(366.5 472.7) rotate(-90)">0.5</text>
<text class="tl" text-anchor="middle" transform="translate(366.5 441.3) rotate(-90)">1</text>
<text class="pl" transform="translate(371.2 420.6) scale(1.0 1)">f</text>
</g>
</svg>
</body></html>
